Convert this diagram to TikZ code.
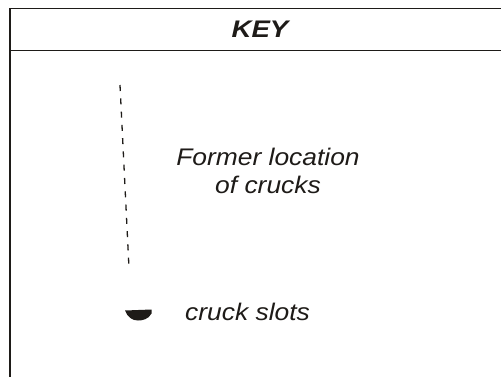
\documentclass[tikz,border=0pt]{standalone}
\usepackage{graphicx}
\usepackage{fontspec}
\setmainfont{Liberation Sans}
\definecolor{ink}{HTML}{1E1B18}
\newcommand\widen[2][1.1]{\scalebox{#1}[1]{#2}}
\begin{document}
\begin{tikzpicture}[x=1pt,y=-1pt,
  frame/.style={draw=ink,line width=1.7pt},
  lbl/.style={text=ink,inner sep=0pt,font=\fontsize{24}{27.5}\selectfont\itshape},
  keylbl/.style={text=ink,inner sep=0pt,font=\fontsize{24}{27}\selectfont\bfseries\itshape},
  dashline/.style={draw=ink,line width=1.3pt,dash pattern=on 6pt off 7.3pt}]
\useasboundingbox (0,0) rectangle (501,376);
\fill[white] (0,0) rectangle (501,376);
\draw[frame] (10,392) -- (10,8.5) -- (512,8.5);
\draw[frame] (10,50.5) -- (512,50.5);
\node[keylbl,anchor=base] (key) at (260,37.5) {\widen[1.15]{KEY}};
\coordinate (dtop) at (120,85);
\coordinate (dbot) at (129,268);
\draw[dashline] (dtop) -- (dbot);
\node[lbl,align=center] (former) at (268,171) {\widen{Former location}\\\widen{of crucks}};
\fill[ink] (125,310.5) -- (151.5,309.5) -- (151.5,313.5) .. controls (148.5,319.5) and (142,320.5) .. (138,320.5) .. controls (132,320.5) and (127.5,317) .. (125,310.5) -- cycle;
\node[lbl,anchor=base west] (slots) at (185,320) {\widen{cruck slots}};
\end{tikzpicture}
\end{document}
